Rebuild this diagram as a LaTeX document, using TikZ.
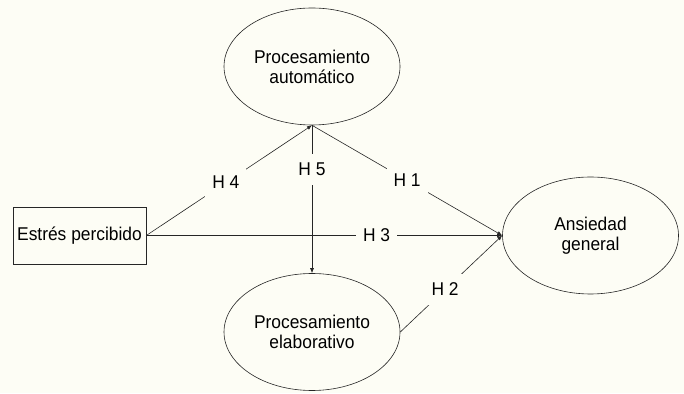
\documentclass[tikz,border=0pt]{standalone}
\usepackage{fontspec}
\setmainfont{Liberation Sans}[FakeStretch=0.94]
\usetikzlibrary{arrows.meta,shapes}
\definecolor{papel}{RGB}{253,253,245}

\begin{document}
\begin{tikzpicture}[x=1pt,y=1pt,
		var/.style={ellipse, draw=black!85, line width=0.6pt, align=center, inner sep=0pt, minimum width=176, minimum height=117, font=\fontsize{18.5}{20}\selectfont},
		hip/.style={draw=black!85, line width=0.6pt, -{Latex[length=5pt,width=4pt]}},
		etq/.style={fill=papel, inner xsep=7pt, inner ysep=9pt, font=\fontsize{18.5}{20}\selectfont}]
				\fill[papel] (0,0) rectangle (684,393);
				\useasboundingbox (0,0) rectangle (684,393);
				
				\node[var] (auto) at (312,326.5) {Procesamiento\\automático};
				\node[var] (elab) at (312,61) {Procesamiento\\elaborativo};
				\node[var] (ansiedad) at (590.5,157.5) {Ansiedad\\general};
				\node[draw=black!85, line width=0.6pt, minimum width=133, minimum height=57, inner sep=2pt, font=\fontsize{18.5}{20}\selectfont] (estres) at (79.5,157.5) {Estrés percibido};
				
				\draw[hip] (estres.east) -- node[etq, pos=0.48] {H 4} (auto.south);
				\draw[hip] (auto.south) -- node[etq, pos=0.5] {H 1} (ansiedad.west);
				\draw[hip] (auto.south) -- node[etq, pos=0.3] {H 5} (elab.north);
				\draw[hip] (estres.east) -- node[etq, pos=0.647] {H 3} (ansiedad.west);
				\draw[hip] (elab.east) -- node[etq, pos=0.44] {H 2} (ansiedad.west);
			\end{tikzpicture}
\end{document}
